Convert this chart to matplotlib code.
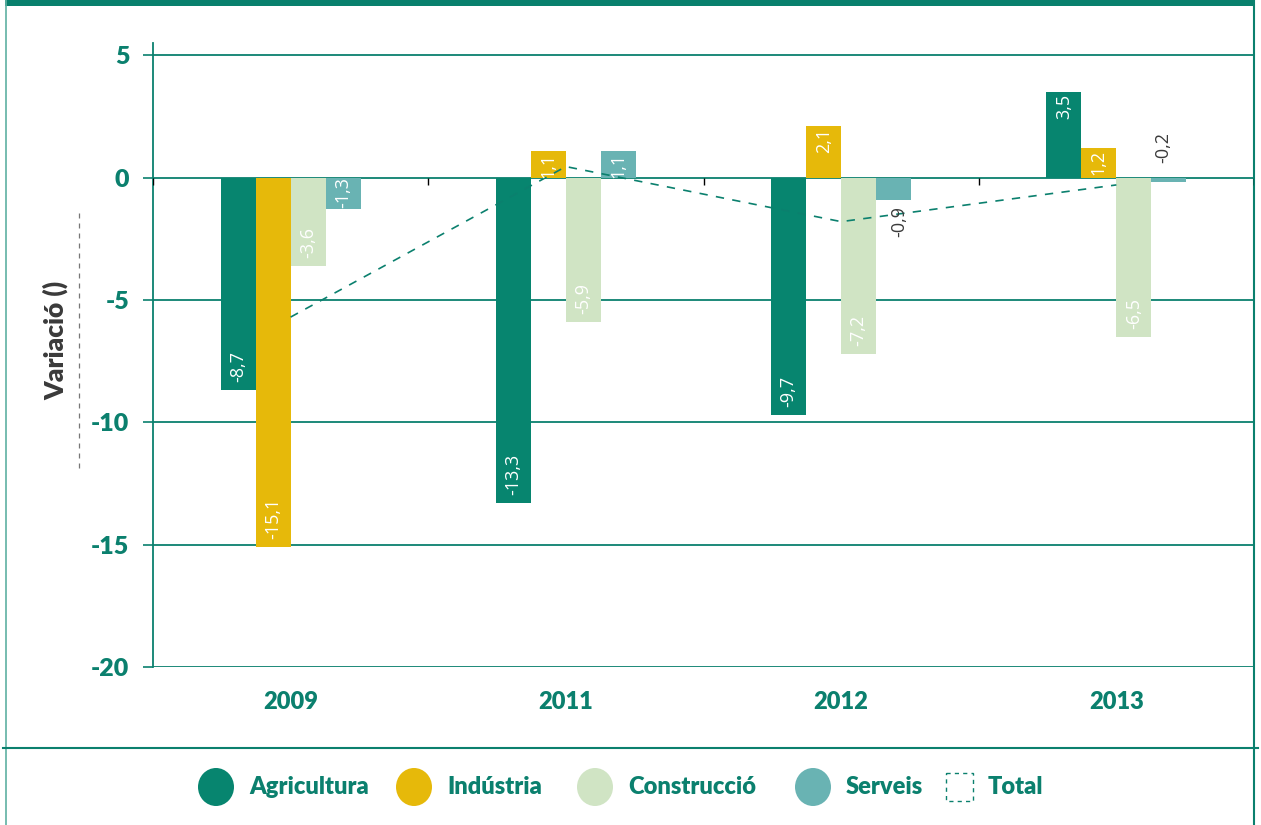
import numpy as np
import matplotlib
matplotlib.use("Agg")
import matplotlib.pyplot as plt
from matplotlib.patches import Ellipse, Rectangle

years = ["2009", "2011", "2012", "2013"]
sectors = ["Agricultura", "Indústria", "Construcció", "Serveis"]
agricultura = [-8.7, -13.3, -9.7, 3.5]
industria = [-15.1, 1.1, 2.1, 1.2]
construccio = [-3.6, -5.9, -7.2, -6.5]
serveis = [-1.3, 1.1, -0.9, -0.2]
total = [-5.7, 0.45, -1.8, -0.3]
y_ticks = [5, 0, -5, -10, -15, -20]

colors = ["#07856f", "#e6b90a", "#d0e4c4", "#69b3b3"]
teal = "#0b806e"
dark = "#3a3a3a"
label_font = ["Open Sans", "DejaVu Sans"]

plt.rcParams["font.family"] = ["Lato", "DejaVu Sans"]

W, H = 1261, 825
fig = plt.figure(figsize=(W / 100, H / 100), dpi=100)

# background frame, drawn in pixel coordinates
bg = fig.add_axes([0, 0, 1, 1], zorder=-5)
bg.set_xlim(0, W)
bg.set_ylim(H, 0)
bg.axis("off")
bg.add_patch(Rectangle((5, 0), 1249, 6, color="#08806d", lw=0))
bg.plot([6, 6], [0, H], color="#5fb0a2", lw=1.2)
bg.plot([1254, 1254], [0, H], color=teal, lw=1.5)
bg.plot([3, 1258], [748, 748], color=teal, lw=1.5)
bg.plot([79, 79], [213, 468], color="#777777", lw=0.9, ls=(0, (4, 4)))
bg.text(56, 340, "Variació ()", rotation=90, ha="center", va="center",
        fontsize=19, fontweight="heavy", color=dark)

# legend
leg_x = [216, 414, 595, 813]
for cx, name, col in zip(leg_x, sectors, colors):
    bg.add_patch(Ellipse((cx, 787), 36, 38, color=col, lw=0))
    bg.text(cx + 33, 787, name, ha="left", va="center", fontsize=17,
            fontweight="heavy", color=teal)
bg.add_patch(Rectangle((946, 773), 27, 28, fill=False, edgecolor=teal,
                       lw=1, ls=(0, (3, 3))))
bg.text(988, 787, "Total", ha="left", va="center", fontsize=17,
        fontweight="heavy", color=teal)

# main chart
ax = fig.add_axes([153 / W, (H - 667) / H, 1101 / W, 624 / H])
ax.patch.set_visible(False)
ax.set_xlim(0, 4)
ax.set_ylim(-20, 5.5)
ax.set_axisbelow(True)

x = np.arange(len(years)) + 0.5
bw = 0.127
series = [agricultura, industria, construccio, serveis]
px = 25.5 / 624  # data units per pixel

for i, (vals, col) in enumerate(zip(series, colors)):
    xs = x + (i - 1.5) * bw
    ax.bar(xs, vals, width=bw, color=col, zorder=2, lw=0)
    for xi, v in zip(xs, vals):
        lab = f"{v:.1f}".replace(".", ",")
        if abs(v) < 0.5:
            ax.text(xi - 0.02, 0.6, lab, rotation=90, ha="center", va="bottom",
                    fontsize=13, color=dark, family=label_font, zorder=4)
        elif abs(v) < 1:
            ax.text(xi + 0.02, v - 6 * px, lab, rotation=90, ha="center", va="top",
                    fontsize=13, color=dark, family=label_font, zorder=4)
        elif v > 0:
            ax.text(xi, v - 2 * px, lab, rotation=90, ha="center", va="top",
                    fontsize=13, color="white", family=label_font, zorder=4)
        else:
            pad = 8 if v < -3 else 1
            ax.text(xi, v + pad * px, lab, rotation=90, ha="center", va="bottom",
                    fontsize=13, color="white", family=label_font, zorder=4)

ax.plot(x, total, color=teal, lw=1.2, ls=(0, (5, 5)), zorder=3)

# category boundary ticks on the zero line
ax.vlines(np.arange(len(years) + 1), -7 * px, 0, color="black", lw=1, zorder=3)

ax.set_yticks(y_ticks)
ax.set_yticklabels([str(t) for t in y_ticks])
ax.set_xticks(x)
ax.set_xticklabels(years)
ax.grid(axis="y", color=teal, lw=1.3)
ax.tick_params(axis="y", length=7, width=1.2, color=teal, pad=10,
               labelsize=18, labelcolor=teal)
ax.tick_params(axis="x", length=0, pad=17, labelsize=17, labelcolor=teal)
for lab in ax.get_xticklabels() + ax.get_yticklabels():
    lab.set_fontweight("heavy")
for s in ["top", "right", "bottom"]:
    ax.spines[s].set_visible(False)
ax.spines["left"].set_color(teal)
ax.spines["left"].set_linewidth(1.3)

fig.savefig("out.png", dpi=100)
